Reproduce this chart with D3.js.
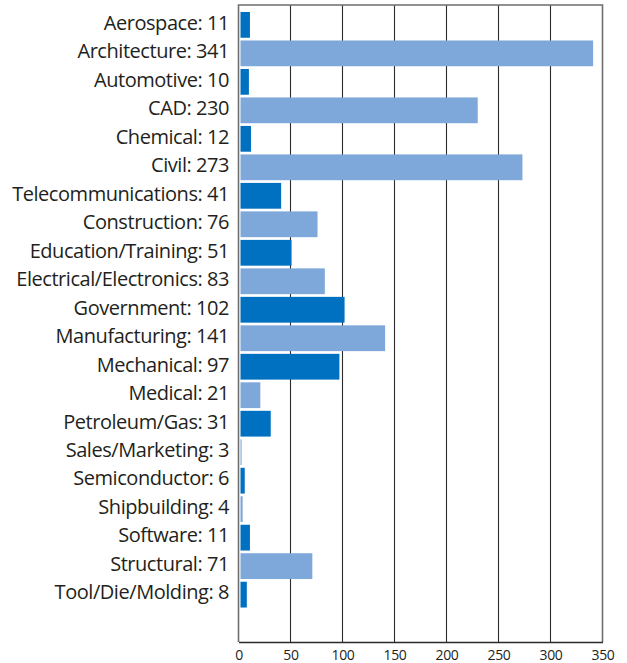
<!DOCTYPE html>
<html>
<head>
<meta charset="utf-8">
<script src="https://cdn.jsdelivr.net/npm/d3@7/dist/d3.min.js"></script>
<style>
  html, body { margin: 0; padding: 0; background: #fff; }
  svg { display: block; }
</style>
</head>
<body>
<svg id="chart" width="627" height="663"></svg>
<script>
// Job postings by industry
const industries = [
  "Aerospace", "Architecture", "Automotive", "CAD", "Chemical", "Civil",
  "Telecommunications", "Construction", "Education/Training",
  "Electrical/Electronics", "Government", "Manufacturing", "Mechanical",
  "Medical", "Petroleum/Gas", "Sales/Marketing", "Semiconductor",
  "Shipbuilding", "Software", "Structural", "Tool/Die/Molding"
];
const counts = [11, 341, 10, 230, 12, 273, 41, 76, 51, 83, 102, 141, 97, 21, 31, 3, 6, 4, 11, 71, 8];
const xTicks = [0, 50, 100, 150, 200, 250, 300, 350];
const palette = ["#0070c0", "#7ea7da"];

const svg = d3.select("#chart");
const plotLeft = 238.5, plotRight = 602.5, plotTop = 5, plotBottom = 642;

const x = d3.scaleLinear().domain([0, 350]).range([plotLeft, plotRight]);
const y = d3.scaleBand()
  .domain(industries)
  .range([10.7, 608.8])
  .paddingInner(0.095)
  .paddingOuter(0.045);

// vertical grid lines
svg.append("g")
  .selectAll("line")
  .data(xTicks.slice(1, -1))
  .join("line")
  .attr("x1", d => x(d)).attr("x2", d => x(d))
  .attr("y1", plotTop).attr("y2", plotBottom)
  .attr("stroke", "#2b2b2b")
  .attr("stroke-width", 1.1);

// bars
svg.append("g")
  .selectAll("rect")
  .data(industries)
  .join("rect")
  .attr("x", x(0) + 2)
  .attr("y", d => y(d))
  .attr("width", (d, i) => Math.max(0, x(counts[i]) - x(0) - 2))
  .attr("height", y.bandwidth())
  .attr("fill", (d, i) => palette[i % 2]);

// frame: top, left, right edges
svg.append("path")
  .attr("d", `M${plotLeft},${plotBottom} V${plotTop} H${plotRight} V${plotBottom}`)
  .attr("fill", "none")
  .attr("stroke", "#6e6e6e")
  .attr("stroke-width", 1.6);

// bottom axis
const xAxis = d3.axisBottom(x).tickValues(xTicks).tickSize(0).tickPadding(8);
const gx = svg.append("g")
  .attr("transform", `translate(0,${plotBottom})`)
  .call(xAxis);
gx.select(".domain").attr("stroke", "#2b2b2b").attr("stroke-width", 1.4);
gx.selectAll("text")
  .attr("font-family", "'Open Sans', 'Noto Sans', sans-serif")
  .attr("font-size", 14)
  .attr("letter-spacing", -0.3)
  .attr("fill", "#231f20");

// category labels with counts
svg.append("g")
  .selectAll("text")
  .data(industries)
  .join("text")
  .attr("x", 229)
  .attr("y", d => y(d) + y.bandwidth() / 2)
  .attr("dy", "0.24em")
  .attr("text-anchor", "end")
  .attr("font-family", "'Open Sans', 'Noto Sans', sans-serif")
  .attr("font-size", 20)
  .attr("letter-spacing", -0.45)
  .attr("fill", "#231f20")
  .text((d, i) => `${d}: ${counts[i]}`);
</script>
</body>
</html>
